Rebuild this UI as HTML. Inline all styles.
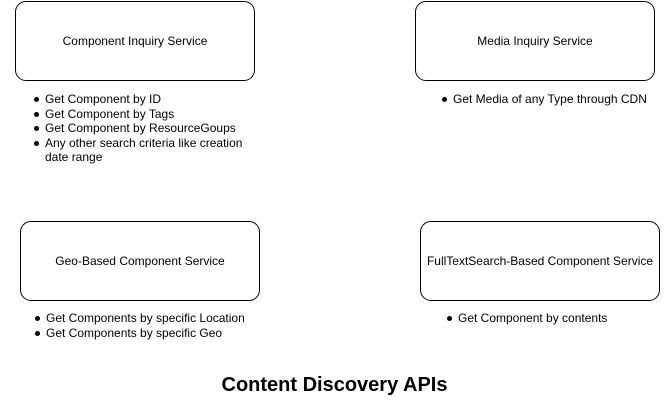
<!DOCTYPE html>
<html><head><meta charset="utf-8"><style>
body{margin:0;width:669px;height:401px;background:#fff;position:relative;overflow:hidden;font-family:"Liberation Sans",Arial,sans-serif;font-size:12px;color:#000}
.b{position:absolute;width:238px;height:78px;border:1px solid #000;border-radius:11px;display:flex;align-items:center;justify-content:center;text-align:center;background:#fff}
.t{position:absolute;line-height:14.5px;white-space:nowrap}
.t div{position:relative;padding-left:8px}
.t div.d:before{content:"";position:absolute;left:-3px;top:5px;width:5px;height:5px;border-radius:50%;background:#000}
h1{position:absolute;margin:0;left:0;width:669px;top:374px;text-align:center;font-size:20px;font-weight:bold}
</style></head><body>
<div class="b" style="left:15px;top:1px">Component Inquiry Service</div>
<div class="b" style="left:415px;top:1px">Media Inquiry Service</div>
<div class="b" style="left:20px;top:221px">Geo-Based Component Service</div>
<div class="b" style="left:420px;top:221px">FullTextSearch-Based Component Service</div>
<div class="t" style="left:37px;top:92px">
<div class="d">Get Component by ID</div>
<div class="d">Get Component by Tags</div>
<div class="d">Get Component by ResourceGoups</div>
<div class="d">Any other search criteria like creation</div>
<div>date range</div>
</div>
<div class="t" style="left:445px;top:92px"><div class="d">Get Media of any Type through CDN</div></div>
<div class="t" style="left:38px;top:311px">
<div class="d">Get Components by specific Location</div>
<div class="d">Get Components by specific Geo</div>
</div>
<div class="t" style="left:450px;top:311px"><div class="d">Get Component by contents</div></div>
<h1>Content Discovery APIs</h1>
</body></html>
